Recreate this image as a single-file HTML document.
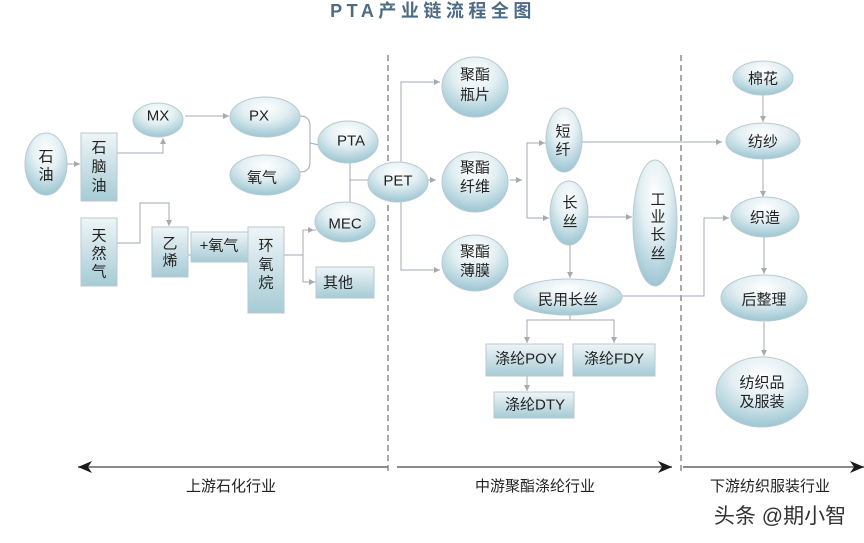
<!DOCTYPE html>
<html><head><meta charset="utf-8"><style>
html,body{margin:0;padding:0;background:#fff;}
svg{display:block;}
text{font-family:"Liberation Sans","Noto Sans CJK SC",sans-serif;fill:#222;}
</style></head><body>
<svg width="864" height="543" viewBox="0 0 864 543" xmlns="http://www.w3.org/2000/svg">
<defs>
<radialGradient id="eg" cx="50%" cy="28%" r="72%">
<stop offset="0" stop-color="#ffffff"/>
<stop offset="0.45" stop-color="#e3eff3"/>
<stop offset="1" stop-color="#9cc6d2"/>
</radialGradient>
<linearGradient id="rg" x1="0" y1="0" x2="0" y2="1">
<stop offset="0" stop-color="#eef5f7"/>
<stop offset="1" stop-color="#a6cbd5"/>
</linearGradient>
<marker id="a" markerWidth="8" markerHeight="8" refX="6" refY="3" orient="auto" markerUnits="userSpaceOnUse">
<path d="M0,0 L6,3 L0,6 z" fill="#a3aab0"/>
</marker>
<marker id="b" markerWidth="16" markerHeight="14" refX="14" refY="6" orient="auto" markerUnits="userSpaceOnUse">
<path d="M0,0 L14,6 L0,12 L4,6 z" fill="#1a1a1a"/>
</marker>
</defs>

<!-- title -->
<text x="433" y="17" text-anchor="middle" style="font-size:18px;font-weight:bold;fill:#4d6b84;letter-spacing:4.5px">PTA产业链流程全图</text>

<!-- dashed dividers -->
<line x1="388" y1="55" x2="388" y2="474" stroke="#555" stroke-width="1" stroke-dasharray="6,4"/>
<line x1="681" y1="55" x2="681" y2="474" stroke="#555" stroke-width="1" stroke-dasharray="6,4"/>

<g fill="none" stroke="#a3aab0" stroke-width="1">
<!-- upstream -->
<line x1="67" y1="164" x2="80" y2="164" marker-end="url(#a)"/>
<polyline points="117,153 163,153 163,138" marker-end="url(#a)"/>
<line x1="185" y1="116" x2="229" y2="116" marker-end="url(#a)"/>
<path d="M300,116 Q310,116 310,126 L310,162 Q310,172 300,172"/>
<line x1="310" y1="143" x2="319" y2="145"/>
<polyline points="117,243 140,243 140,203 169,203 169,226" marker-end="url(#a)"/>
<line x1="188" y1="255" x2="247" y2="255" marker-end="url(#a)"/>
<line x1="284" y1="255" x2="303" y2="255"/>
<polyline points="316,230 303,230 303,282 316,282"/>
<line x1="303" y1="230" x2="314" y2="230" marker-end="url(#a)"/>
<line x1="303" y1="282" x2="315" y2="282" marker-end="url(#a)"/>
<line x1="350" y1="163" x2="350" y2="203"/>
<line x1="350" y1="180" x2="369" y2="180"/>
<!-- midstream -->
<line x1="368" y1="180" x2="436" y2="180" marker-end="url(#a)"/>
<polyline points="401,163 401,82 440,82" marker-end="url(#a)"/>
<polyline points="401,202 401,270 440,270" marker-end="url(#a)"/>
<line x1="510" y1="180" x2="522" y2="180" marker-end="url(#a)"/>
<polyline points="546,143 527,143 527,218 549,218"/>
<line x1="527" y1="143" x2="545" y2="143" marker-end="url(#a)"/>
<line x1="527" y1="218" x2="549" y2="218" marker-end="url(#a)"/>
<line x1="588" y1="217" x2="632" y2="217" marker-end="url(#a)"/>
<line x1="582" y1="142" x2="722" y2="142" marker-end="url(#a)"/>
<line x1="570" y1="245" x2="570" y2="278" marker-end="url(#a)"/>
<polyline points="622,296 704,296 704,218 722,218" />
<line x1="704" y1="218" x2="729" y2="218" marker-end="url(#a)"/>
<line x1="570" y1="315" x2="570" y2="320"/>
<polyline points="527,340 527,320 614,320 614,340"/>
<line x1="527" y1="320" x2="527" y2="343" marker-end="url(#a)"/>
<line x1="614" y1="320" x2="614" y2="343" marker-end="url(#a)"/>
<line x1="527" y1="376" x2="527" y2="391" marker-end="url(#a)"/>
<!-- downstream -->
<line x1="763" y1="95" x2="763" y2="122" marker-end="url(#a)"/>
<line x1="763" y1="159" x2="763" y2="197" marker-end="url(#a)"/>
<line x1="764" y1="237" x2="764" y2="274" marker-end="url(#a)"/>
<line x1="764" y1="322" x2="764" y2="356" marker-end="url(#a)"/>
</g>

<!-- bottom arrows -->
<g stroke="#8a8a8a" stroke-width="2" fill="none">
<line x1="388" y1="467" x2="78" y2="467" marker-end="url(#b)"/>
<line x1="397" y1="467" x2="672" y2="467" marker-end="url(#b)"/>
<line x1="683" y1="467" x2="864" y2="467" marker-end="url(#b)"/>
</g>
<g style="font-size:15px" text-anchor="middle">
<text x="231" y="491">上游石化行业</text>
<text x="535" y="491">中游聚酯涤纶行业</text>
<text x="770" y="491">下游纺织服装行业</text>
</g>
<text x="780" y="523" text-anchor="middle" style="font-size:21px;fill:#333">头条 @期小智</text>

<!-- shapes -->
<g stroke="#b9c9d0" stroke-width="1">
<ellipse cx="46" cy="164" rx="21" ry="31" fill="url(#eg)"/>
<rect x="81" y="133" width="36" height="68" fill="url(#rg)"/>
<ellipse cx="158" cy="120" rx="25" ry="17" fill="url(#eg)"/>
<ellipse cx="265" cy="117" rx="35" ry="20" fill="url(#eg)"/>
<ellipse cx="265" cy="175" rx="35" ry="20" fill="url(#eg)"/>
<ellipse cx="348" cy="142" rx="30" ry="21" fill="url(#eg)"/>
<rect x="81" y="218" width="36" height="68" fill="url(#rg)"/>
<rect x="152" y="227" width="36" height="50" fill="url(#rg)"/>
<rect x="191" y="232" width="57" height="30" fill="url(#rg)"/>
<rect x="248" y="227" width="36" height="86" fill="url(#rg)"/>
<ellipse cx="345" cy="222" rx="30" ry="20" fill="url(#eg)"/>
<rect x="316" y="267" width="58" height="31" fill="url(#rg)"/>
<ellipse cx="398" cy="182" rx="30" ry="20" fill="url(#eg)"/>
<ellipse cx="475" cy="87" rx="33" ry="30" fill="url(#eg)"/>
<ellipse cx="475" cy="182" rx="33" ry="30" fill="url(#eg)"/>
<ellipse cx="475" cy="263" rx="33" ry="28" fill="url(#eg)"/>
<ellipse cx="564" cy="140" rx="18" ry="32" fill="url(#eg)"/>
<ellipse cx="569" cy="213" rx="19" ry="32" fill="url(#eg)"/>
<ellipse cx="655" cy="223" rx="22" ry="63" fill="url(#eg)"/>
<ellipse cx="568" cy="297" rx="54" ry="18" fill="url(#eg)"/>
<rect x="486" y="344" width="77" height="32" fill="url(#rg)"/>
<rect x="573" y="344" width="82" height="32" fill="url(#rg)"/>
<rect x="494" y="392" width="80" height="26" fill="url(#rg)"/>
<ellipse cx="763" cy="78" rx="30" ry="17" fill="url(#eg)"/>
<ellipse cx="763" cy="141" rx="37" ry="18" fill="url(#eg)"/>
<ellipse cx="765" cy="217" rx="34" ry="20" fill="url(#eg)"/>
<ellipse cx="764" cy="298" rx="43" ry="23" fill="url(#eg)"/>
<ellipse cx="762" cy="392" rx="46" ry="35" fill="url(#eg)"/>
</g>

<!-- labels -->
<g style="font-size:15px" text-anchor="middle" dominant-baseline="central">
<text x="46" y="157">石</text><text x="46" y="175">油</text>
<text x="99" y="148">石</text><text x="99" y="167">脑</text><text x="99" y="186">油</text>
<text x="158" y="116">MX</text>
<text x="259" y="116">PX</text>
<text x="262" y="178">氧气</text>
<text x="351" y="141">PTA</text>
<text x="99" y="236">天</text><text x="99" y="254">然</text><text x="99" y="272">气</text>
<text x="170" y="244">乙</text><text x="170" y="261">烯</text>
<text x="219" y="246">+氧气</text>
<text x="266" y="246">环</text><text x="266" y="265">氧</text><text x="266" y="283">烷</text>
<text x="345" y="224">MEC</text>
<text x="338" y="283">其他</text>
<text x="398" y="181">PET</text>
<text x="475" y="75">聚酯</text><text x="475" y="95">瓶片</text>
<text x="475" y="168">聚酯</text><text x="475" y="187">纤维</text>
<text x="475" y="252">聚酯</text><text x="475" y="271">薄膜</text>
<text x="563" y="132">短</text><text x="563" y="150">纤</text>
<text x="570" y="203">长</text><text x="570" y="222">丝</text>
<text x="658" y="200">工</text><text x="658" y="217">业</text><text x="658" y="235">长</text><text x="658" y="254">丝</text>
<text x="568" y="300">民用长丝</text>
<text x="526" y="359">涤纶POY</text>
<text x="614" y="359">涤纶FDY</text>
<text x="535" y="405">涤纶DTY</text>
<text x="763" y="79">棉花</text>
<text x="763" y="142">纺纱</text>
<text x="765" y="218">织造</text>
<text x="764" y="300">后整理</text>
<text x="762" y="383">纺织品</text><text x="762" y="402">及服装</text>
</g>
</svg>
</body></html>
